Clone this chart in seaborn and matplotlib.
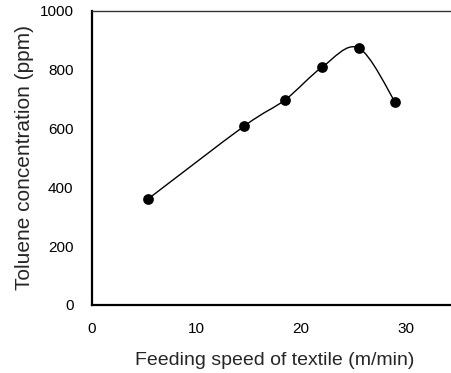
import numpy as np
import pandas as pd
import matplotlib
matplotlib.use("Agg")
import matplotlib.pyplot as plt
from matplotlib.path import Path
from matplotlib.patches import PathPatch
import seaborn as sns

speed = [5.4, 14.6, 18.5, 22.0, 25.5, 29.0]
toluene = [360, 608, 697, 807, 873, 689]
xticks = [0, 10, 20, 30]
yticks = [0, 200, 400, 600, 800, 1000]

sns.set_style("white")
plt.rcParams['font.family'] = ['Liberation Sans', 'DejaVu Sans']

df = pd.DataFrame({"speed": speed, "toluene": toluene})

fig = plt.figure(figsize=(4.51, 3.73), dpi=100)
W, H = 451, 373
left, right, top, bottom = 91.5, 458.0, 10.5, 305.0
ax = fig.add_axes([left / W, 1 - bottom / H, (right - left) / W, (bottom - top) / H])

# smooth curve through points (Catmull-Rom as cubic Bezier path)
pts = np.column_stack([speed, toluene]).astype(float)
verts = [tuple(pts[0])]
codes = [Path.MOVETO]
n = len(pts)
for i in range(n - 1):
    p0 = pts[i - 1] if i > 0 else pts[i]
    p1 = pts[i]
    p2 = pts[i + 1]
    p3 = pts[i + 2] if i + 2 < n else pts[i + 1]
    c1 = p1 + (p2 - p0) / 6.0
    c2 = p2 - (p3 - p1) / 6.0
    verts += [tuple(c1), tuple(c2), tuple(p2)]
    codes += [Path.CURVE4] * 3
ax.add_patch(PathPatch(Path(verts, codes), facecolor="none", edgecolor="black", lw=1.0, zorder=2))

sns.scatterplot(data=df, x="speed", y="toluene", ax=ax, color="black", s=60,
                edgecolor="black", linewidth=0, zorder=3)

ax.set_xlim(0, 35)
ax.set_ylim(0, 1000)
ax.set_xticks(xticks)
ax.set_yticks(yticks)
ax.tick_params(axis="both", length=0, labelsize=11, colors="black")
ax.tick_params(axis="x", pad=12)
ax.tick_params(axis="y", pad=13)
ax.set_xlabel("Feeding speed of textile (m/min)", fontsize=14, labelpad=12)
ax.set_ylabel("Toluene concentration (ppm)", fontsize=15, labelpad=4)
for s in ["left", "bottom"]:
    ax.spines[s].set_linewidth(1.6)
    ax.spines[s].set_color("black")
ax.spines["top"].set_linewidth(1.0)
ax.spines["top"].set_color("#333333")
ax.spines["right"].set_visible(False)

fig.savefig("out.png", dpi=100)
